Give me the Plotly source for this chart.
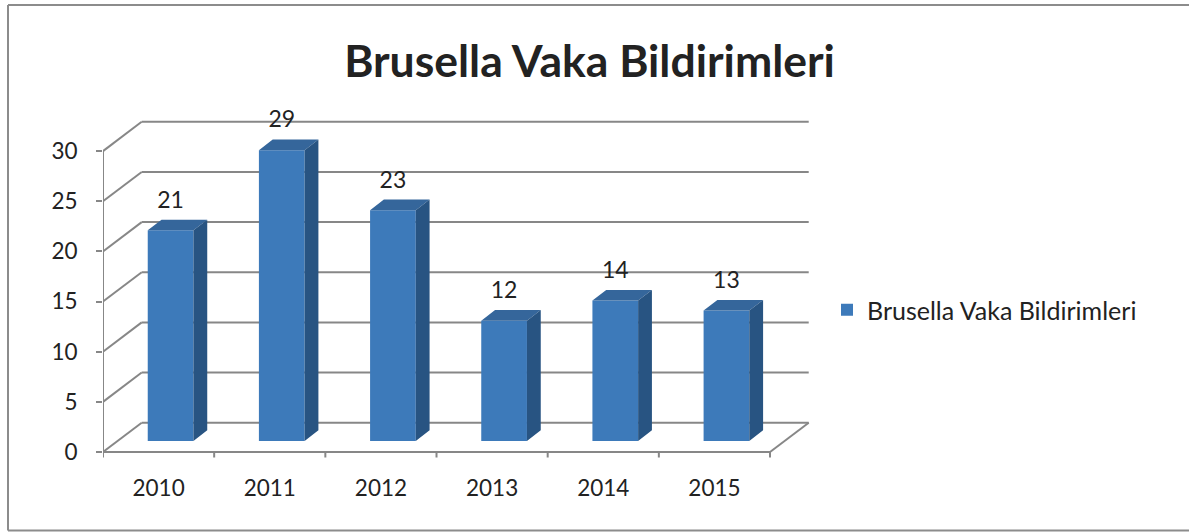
import plotly.graph_objects as go

# ---------------- data ----------------
years = ["2010", "2011", "2012", "2013", "2014", "2015"]
cases = [21, 29, 23, 12, 14, 13]
y_ticks = [0, 5, 10, 15, 20, 25, 30]
series_name = "Brusella Vaka Bildirimleri"
title_text = "Brusella Vaka Bildirimleri"

# ---------------- geometry / style ----------------
W, H = 1189, 532
PL, PR, PT, PB = 103, 812, 95, 462      # plot area in pixels
SX = 111.17                             # px per category
SY = 10.03                              # px per value unit
Y0_PX = 452                             # pixel of value 0 on front plane
x_lo = -0.5
x_hi = x_lo + (PR - PL) / SX
y_lo = -(PB - Y0_PX) / SY
y_hi = (Y0_PX - PT) / SY

WALL_DX = 38.7 / SX
WALL_DY = 29.3 / SY
BAR_FX = 12.0 / SX
BAR_FY = 11.0 / SY
BAR_DX = 13.8 / SX
BAR_DY = 10.7 / SY
BAR_W = 45.7 / SX
LABEL_GAP = 28.5 / SY
TICK_LEN = 5.5 / SY

FONT = "Lato, 'Open Sans', sans-serif"
TXT = "#222222"
GRID = "#878787"
C_FRONT = "#3D7ABA"
C_SIDE = "#285482"
C_TOP = "#35669B"

n = len(years)
xs = list(range(n))
x_front_left = -0.5
x_front_right = n - 0.5

fig = go.Figure()

# front faces
fig.add_trace(go.Bar(
    x=[x + BAR_FX for x in xs], y=cases, base=BAR_FY, width=BAR_W,
    marker=dict(color=C_FRONT, line=dict(width=0)),
    name=series_name, showlegend=True, hoverinfo="skip",
))

# top and side faces
top_x, top_y, side_x, side_y = [], [], [], []
for x, v in zip(xs, cases):
    x0 = x + BAR_FX - BAR_W / 2
    x1 = x + BAR_FX + BAR_W / 2
    b = BAR_FY
    t = BAR_FY + v
    top_x += [x0, x1, x1 + BAR_DX, x0 + BAR_DX, x0, None]
    top_y += [t, t, t + BAR_DY, t + BAR_DY, t, None]
    side_x += [x1, x1 + BAR_DX, x1 + BAR_DX, x1, x1, None]
    side_y += [b, b + BAR_DY, t + BAR_DY, t, b, None]

fig.add_trace(go.Scatter(x=top_x, y=top_y, mode="lines", fill="toself",
                         fillcolor=C_TOP, line=dict(width=0, color=C_TOP),
                         showlegend=False, hoverinfo="skip"))
fig.add_trace(go.Scatter(x=side_x, y=side_y, mode="lines", fill="toself",
                         fillcolor=C_SIDE, line=dict(width=0, color=C_SIDE),
                         showlegend=False, hoverinfo="skip"))

# data labels
fig.add_trace(go.Scatter(
    x=[x + BAR_FX for x in xs], y=[BAR_FY + v + LABEL_GAP for v in cases],
    mode="text", text=[str(v) for v in cases], textposition="middle center",
    textfont=dict(family=FONT, size=23, color=TXT),
    showlegend=False, hoverinfo="skip", cliponaxis=False,
))

# walls / floor lines
shapes = []
def seg(x0, y0, x1, y1):
    shapes.append(dict(type="line", xref="x", yref="y", x0=x0, y0=y0, x1=x1, y1=y1,
                       line=dict(color=GRID, width=2), layer="below"))

for v in y_ticks:
    seg(x_front_left, v, x_front_left + WALL_DX, v + WALL_DY)
    seg(x_front_left + WALL_DX, v + WALL_DY, x_front_right + WALL_DX, v + WALL_DY)
seg(x_front_left, y_ticks[0], x_front_left, y_ticks[-1])
seg(x_front_left, 0, x_front_right, 0)
seg(x_front_right, 0, x_front_right + WALL_DX, WALL_DY)
for k in range(n + 1):
    xb = x_front_left + k
    seg(xb, 0, xb, -TICK_LEN)

# outer frame (left, top, bottom edges; the right edge lies outside the picture)
pw, ph = PR - PL, PB - PT
fx0, fx1 = (8 - PL) / pw, (W - PL) / pw
fy0, fy1 = (PB - 530.5) / ph, (PB - 5) / ph
for (a, b, c, d) in [(fx0, fy0, fx0, fy1), (fx0, fy1, fx1, fy1), (fx0, fy0, fx1, fy0)]:
    shapes.append(dict(type="line", xref="paper", yref="paper", x0=a, y0=b, x1=c, y1=d,
                       line=dict(color="#8C8C8C", width=2), layer="below"))

fig.update_layout(
    width=W, height=H,
    margin=dict(l=PL, r=W - PR, t=PT, b=H - PB, pad=0),
    paper_bgcolor="white", plot_bgcolor="white",
    shapes=shapes,
    title=dict(text=title_text, x=589.5 / W, xref="container", xanchor="center",
               y=1 - 61 / H, yref="container", yanchor="middle",
               font=dict(family=FONT, size=44.5, color=TXT, weight="bold")),
    xaxis=dict(range=[x_lo, x_hi], tickvals=xs, ticktext=years, ticks="",
               showgrid=False, zeroline=False, showline=False,
               tickfont=dict(family=FONT, size=22.5, color=TXT),
               ticklabelstandoff=10, fixedrange=True),
    yaxis=dict(range=[y_lo, y_hi], tickvals=y_ticks, ticks="outside", ticklen=6,
               tickwidth=2, tickcolor=GRID, showgrid=False, zeroline=False,
               showline=False, tickfont=dict(family=FONT, size=22.5, color=TXT),
               ticklabelstandoff=14, fixedrange=True),
    legend=dict(x=(827 - PL) / pw, xanchor="left", y=(PB - 310) / ph, yanchor="middle",
                font=dict(family=FONT, size=25, color=TXT), bgcolor="rgba(0,0,0,0)"),
    showlegend=True,
)

fig.write_html("out.html", config={"displayModeBar": False},
               post_script=("document.documentElement.style.overflow='hidden';"
                            "document.body.style.overflow='hidden';"
                            "document.body.style.margin='0';"
                            "document.body.style.padding='0';"))
